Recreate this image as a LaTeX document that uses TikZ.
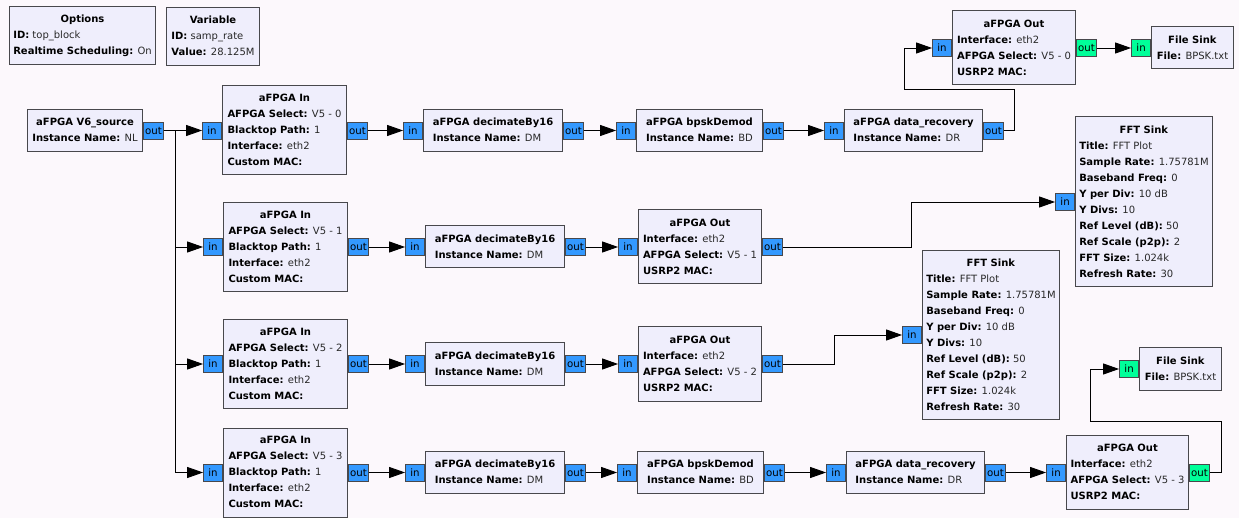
\documentclass[tikz,border=0pt]{standalone}
\usepackage{fontspec}
\setmainfont{DejaVu Sans}
\usetikzlibrary{arrows.meta}

\definecolor{canvas}{RGB}{252,248,252}
\definecolor{blockfill}{RGB}{239,238,252}
\definecolor{edge}{RGB}{72,72,76}
\definecolor{portblue}{RGB}{51,153,255}
\definecolor{portgreen}{RGB}{0,255,153}
\definecolor{valtext}{RGB}{40,40,40}

% block text helpers: centred bold title, "key: value" rows
\newcommand{\hd}[1]{\multicolumn{1}{@{}c@{}}{\textbf{#1}}}
\newcommand{\kv}[2]{\textbf{#1:} \textcolor{valtext}{#2}}
\newenvironment{rows}{\begin{tabular}{@{}l@{}}}{\end{tabular}}

\tikzset{
  blk/.style 2 args={draw=edge, fill=blockfill, line width=1pt, rectangle,
    inner sep=0pt, minimum width=#1, minimum height=#2, anchor=west,
    font=\fontsize{10}{16}\selectfont},
  port/.style={draw=edge, fill=portblue, line width=0.9pt, rectangle,
    inner xsep=0.5pt, inner ysep=0pt, minimum height=17,
    font=\fontsize{10.2}{11}\selectfont},
  inport/.style={port, minimum width=19, anchor=east},
  outport/.style={port, minimum width=20, anchor=west},
  bytes/.style={fill=portgreen},
  conn/.style={draw=black, line width=0.9pt, -{Triangle[length=16pt, width=11pt]}},
}

\begin{document}
\begin{tikzpicture}[x=1pt, y=-1pt]
  \fill[canvas] (0,0) rectangle (1239,518);
  \useasboundingbox (0,0) rectangle (1239,518);

  % ---- settings blocks
  \node[blk={146}{58}, anchor=north west] (opt) at (9,6)
    {\begin{rows}\hd{Options}\\ \kv{ID}{top\_block}\\ \kv{Realtime Scheduling}{On}\end{rows}};
  \node[blk={93}{58}, anchor=north west] (var) at (166,7)
    {\begin{rows}\hd{Variable}\\ \kv{ID}{samp\_rate}\\ \kv{Value}{28.125M}\end{rows}};

  % ---- source
  \node[blk={115}{42}] (src) at (27,130.5)
    {\begin{rows}\hd{aFPGA V6\_source}\\ \kv{Instance Name}{NL}\end{rows}};
  \node[outport] (src-out) at (src.east) {out};

  % ---- row 0
  \node[blk={124}{89}] (in0) at (222,130.5)
    {\begin{rows}\hd{aFPGA In}\\ \kv{AFPGA Select}{V5 - 0}\\ \kv{Blacktop Path}{1}\\ \kv{Interface}{eth2}\\ \textbf{Custom MAC:}\end{rows}};
  \node[blk={139}{42}] (dec0) at (423,130.5)
    {\begin{rows}\hd{aFPGA decimateBy16}\\ \kv{Instance Name}{DM}\end{rows}};
  \node[blk={126}{42}] (bd0) at (636,130.5)
    {\begin{rows}\hd{aFPGA bpskDemod}\\ \kv{Instance Name}{BD}\end{rows}};
  \node[blk={138}{42}] (dr0) at (844,130.5)
    {\begin{rows}\hd{aFPGA data\_recovery}\\ \kv{Instance Name}{DR}\end{rows}};
  \node[blk={123}{74}] (out0) at (952,48)
    {\begin{rows}\hd{aFPGA Out}\\ \kv{Interface}{eth2}\\ \kv{AFPGA Select}{V5 - 0}\\ \textbf{USRP2 MAC:}\end{rows}};
  \node[blk={82}{42}] (fs0) at (1151,48)
    {\begin{rows}\hd{File Sink}\\ \kv{File}{BPSK.txt}\end{rows}};

  % ---- row 1
  \node[blk={124}{89}] (in1) at (223,247)
    {\begin{rows}\hd{aFPGA In}\\ \kv{AFPGA Select}{V5 - 1}\\ \kv{Blacktop Path}{1}\\ \kv{Interface}{eth2}\\ \textbf{Custom MAC:}\end{rows}};
  \node[blk={139}{42}] (dec1) at (425,247)
    {\begin{rows}\hd{aFPGA decimateBy16}\\ \kv{Instance Name}{DM}\end{rows}};
  \node[blk={123}{74}] (out1) at (638,247)
    {\begin{rows}\hd{aFPGA Out}\\ \kv{Interface}{eth2}\\ \kv{AFPGA Select}{V5 - 1}\\ \textbf{USRP2 MAC:}\end{rows}};
  \node[blk={137}{170}] (fft1) at (1075,202)
    {\begin{rows}\hd{FFT Sink}\\ \kv{Title}{FFT Plot}\\ \kv{Sample Rate}{1.75781M}\\ \kv{Baseband Freq}{0}\\ \kv{Y per Div}{10 dB}\\ \kv{Y Divs}{10}\\ \kv{Ref Level (dB)}{50}\\ \kv{Ref Scale (p2p)}{2}\\ \kv{FFT Size}{1.024k}\\ \kv{Refresh Rate}{30}\end{rows}};

  % ---- row 2
  \node[blk={124}{89}] (in2) at (223,364)
    {\begin{rows}\hd{aFPGA In}\\ \kv{AFPGA Select}{V5 - 2}\\ \kv{Blacktop Path}{1}\\ \kv{Interface}{eth2}\\ \textbf{Custom MAC:}\end{rows}};
  \node[blk={139}{42}] (dec2) at (425,364)
    {\begin{rows}\hd{aFPGA decimateBy16}\\ \kv{Instance Name}{DM}\end{rows}};
  \node[blk={123}{74}] (out2) at (638,364)
    {\begin{rows}\hd{aFPGA Out}\\ \kv{Interface}{eth2}\\ \kv{AFPGA Select}{V5 - 2}\\ \textbf{USRP2 MAC:}\end{rows}};
  \node[blk={137}{168}] (fft2) at (922,335)
    {\begin{rows}\hd{FFT Sink}\\ \kv{Title}{FFT Plot}\\ \kv{Sample Rate}{1.75781M}\\ \kv{Baseband Freq}{0}\\ \kv{Y per Div}{10 dB}\\ \kv{Y Divs}{10}\\ \kv{Ref Level (dB)}{50}\\ \kv{Ref Scale (p2p)}{2}\\ \kv{FFT Size}{1.024k}\\ \kv{Refresh Rate}{30}\end{rows}};
  \node[blk={82}{42}] (fs3) at (1139,369)
    {\begin{rows}\hd{File Sink}\\ \kv{File}{BPSK.txt}\end{rows}};

  % ---- row 3
  \node[blk={124}{89}] (in3) at (223,472.5)
    {\begin{rows}\hd{aFPGA In}\\ \kv{AFPGA Select}{V5 - 3}\\ \kv{Blacktop Path}{1}\\ \kv{Interface}{eth2}\\ \textbf{Custom MAC:}\end{rows}};
  \node[blk={139}{42}] (dec3) at (425,472.5)
    {\begin{rows}\hd{aFPGA decimateBy16}\\ \kv{Instance Name}{DM}\end{rows}};
  \node[blk={126}{42}] (bd3) at (637,472.5)
    {\begin{rows}\hd{aFPGA bpskDemod}\\ \kv{Instance Name}{BD}\end{rows}};
  \node[blk={138}{42}] (dr3) at (846,472.5)
    {\begin{rows}\hd{aFPGA data\_recovery}\\ \kv{Instance Name}{DR}\end{rows}};
  \node[blk={122}{74}] (out3) at (1066,472.5)
    {\begin{rows}\hd{aFPGA Out}\\ \kv{Interface}{eth2}\\ \kv{AFPGA Select}{V5 - 3}\\ \textbf{USRP2 MAC:}\end{rows}};

  % ---- ports
  \foreach \b in {in0,dec0,bd0,dr0,out0,in1,dec1,out1,fft1,in2,dec2,out2,fft2,in3,dec3,bd3,dr3,out3}
    \node[inport] (\b-in) at (\b.west) {in};
  \foreach \b in {in0,dec0,bd0,in1,dec1,out1,in2,dec2,out2,in3,dec3,bd3,dr3,dr0}
    \node[outport] (\b-out) at (\b.east) {out};
  \node[outport, bytes] (out0-out) at (out0.east) {out};
  \node[outport, bytes] (out3-out) at (out3.east) {out};
  \node[inport, bytes] (fs0-in) at (fs0.west) {in};
  \node[inport, bytes] (fs3-in) at (fs3.west) {in};

  % ---- connections
  \draw[conn] (src-out.east) -- (in0-in.west);
  \draw[conn] (src-out.east) -- ++(12,0) |- (in1-in.west);
  \draw[conn] (src-out.east) -- ++(12,0) |- (in2-in.west);
  \draw[conn] (src-out.east) -- ++(12,0) |- (in3-in.west);

  \draw[conn] (in0-out.east) -- (dec0-in.west);
  \draw[conn] (dec0-out.east) -- (bd0-in.west);
  \draw[conn] (bd0-out.east) -- (dr0-in.west);
  \draw[conn] (dr0-out.east) -- ++(11,0) -- ++(0,-41) -| ([xshift=-28pt]out0-in.west) -- (out0-in.west);
  \draw[conn] (out0-out.east) -- (fs0-in.west);

  \draw[conn] (in1-out.east) -- (dec1-in.west);
  \draw[conn] (dec1-out.east) -- (out1-in.west);
  \draw[conn] (out1-out.east) -- ++(129,0) |- (fft1-in.west);

  \draw[conn] (in2-out.east) -- (dec2-in.west);
  \draw[conn] (dec2-out.east) -- (out2-in.west);
  \draw[conn] (out2-out.east) -- ++(52,0) |- (fft2-in.west);

  \draw[conn] (in3-out.east) -- (dec3-in.west);
  \draw[conn] (dec3-out.east) -- (bd3-in.west);
  \draw[conn] (bd3-out.east) -- (dr3-in.west);
  \draw[conn] (dr3-out.east) -- (out3-in.west);
  \draw[conn] (out3-out.east) -- ++(12,0) -- ++(0,-51) -| ([xshift=-29pt]fs3-in.west) -- (fs3-in.west);
\end{tikzpicture}
\end{document}
